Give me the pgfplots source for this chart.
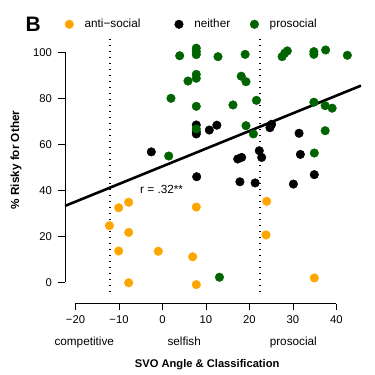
\documentclass[border=0pt]{standalone}
\usepackage{fontspec}
\setmainfont{Liberation Sans}
\usepackage{pgfplots}
\pgfplotsset{compat=1.18}
\definecolor{rorange}{HTML}{FFA500}
\definecolor{rgreen}{HTML}{006400}
\begin{document}
\begin{tikzpicture}
\useasboundingbox (-65bp,-71.5bp) rectangle (310bp,303.5bp);
\begin{axis}[
  scale only axis, width=295.97bp, height=264.55bp,
  xmin=-22.41, xmax=45.63, ymin=-9.22, ymax=105.8,
  clip=false,
  axis line style={draw=none},
  xtick={-20,-10,0,10,20,30,40},
  xticklabels={−20,−10,0,10,20,30,40},
  ytick={0,20,40,60,80,100},
  xtick pos=bottom, ytick pos=left,
  tick align=outside,
  major tick length=6.5bp,
  tick style={black, line width=0.75bp},
  /pgf/number format/assume math mode=true,
  ticklabel style={font=\fontsize{11.3}{13}\selectfont},
  xticklabel style={yshift=-2.5bp},
  yticklabel style={xshift=-3bp},
  legend columns=3,
  legend image code/.code={\draw[#1] plot coordinates {(0bp,0bp)};},
  legend style={draw=none, fill=none, at={(axis cs:-22.41,112.17)}, anchor=west,
    inner sep=0pt, outer sep=0pt, font=\fontsize{11.8}{14}\selectfont,
    nodes={inner sep=0pt},
    /tikz/every odd column/.style={column sep=11bp},
    /tikz/column 2/.style={column sep=34.2bp},
    /tikz/column 4/.style={column sep=19.9bp}},
  legend cell align=left,
  every axis plot/.append style={mark size=4.3bp},
]
\draw[black, line width=0.75bp] (axis cs:-22.41,0) -- (axis cs:-22.41,100);
\draw[black, line width=0.75bp] (axis cs:-20,-9.22) -- (axis cs:40,-9.22);

\addplot[only marks, mark=*, rorange, mark options={draw=none, fill=rorange}] coordinates {
(-10.07,32.4) (-7.77,34.8) (7.77,32.7) (-12.2,24.6) (-7.77,21.7) (-10.07,13.6)
(-0.97,13.5) (6.94,11.1) (-7.77,-0.2) (7.77,-1.0) (23.95,35.2) (23.8,20.6) (34.9,1.9)
};
\addlegendentry{anti−social}
\addplot[only marks, mark=*, black, mark options={draw=none, fill=black}] coordinates {
(-2.57,56.7) (7.77,68.4) (7.77,65.5) (7.77,64.5) (7.86,45.9) (10.76,66.2) (12.5,68.3)
(25.1,68.7) (24.7,67.2) (31.4,64.8) (22.25,57.2) (22.8,54.3) (17.3,53.6) (18.2,54.3)
(31.7,55.6) (17.8,43.7) (21.3,43.2) (30.1,42.7) (34.9,46.8)
};
\addlegendentry{neither}
\addplot[only marks, mark=*, rgreen, mark options={draw=none, fill=rgreen}] coordinates {
(3.95,98.5) (7.77,101.8) (7.77,100.3) (7.77,99.0) (12.76,98.1) (5.86,87.5) (7.77,90.4)
(7.77,88.7) (1.95,80.0) (7.77,76.5) (7.77,66.7) (1.43,54.9) (19.0,99.1) (27.5,98.1)
(28.1,99.6) (28.7,100.6) (34.8,99.1) (34.8,100.3) (37.5,101.0) (42.5,98.7) (18.1,89.6)
(19.2,87.2) (16.2,77.1) (21.6,79.1) (34.8,78.3) (37.4,76.8) (39.0,75.7) (19.2,68.1)
(20.9,64.5) (37.4,65.9) (34.9,56.2) (13.1,2.2)
};
\addlegendentry{prosocial}

\addplot[black, line width=1.3bp, dash pattern=on 1.1bp off 4.9bp, forget plot] coordinates {(-12.04,-4.2) (-12.04,105.8)};
\addplot[black, line width=1.3bp, dash pattern=on 1.1bp off 4.9bp, forget plot] coordinates {(22.45,-4.2) (22.45,105.8)};
\addplot[black, line width=2.6bp, forget plot] coordinates {(-22.41,33.2) (45.63,85.5)};

\node[anchor=base west, font=\fontsize{11.8}{14}\selectfont] at (axis cs:-5.93,38.4) {r = .32**};
\node[font=\fontsize{21}{24}\bfseries] at (axis cs:-29.7,112.2) {B};
\node[anchor=base, font=\fontsize{11.8}{14}\selectfont] at (axis cs:-17.98,-27.5) {competitive};
\node[anchor=base, font=\fontsize{11.8}{14}\selectfont] at (axis cs:4.99,-27.5) {selfish};
\node[anchor=base, font=\fontsize{11.8}{14}\selectfont] at (axis cs:30.07,-27.5) {prosocial};
\node[anchor=base, font=\fontsize{11.2}{14}\bfseries] at (axis cs:10.28,-37.26) {SVO Angle \& Classification};
\node[rotate=90, font=\fontsize{11.8}{14}\bfseries] at (axis cs:-33.68,53.17) {\% Risky for Other};
\end{axis}
\end{tikzpicture}
\end{document}
